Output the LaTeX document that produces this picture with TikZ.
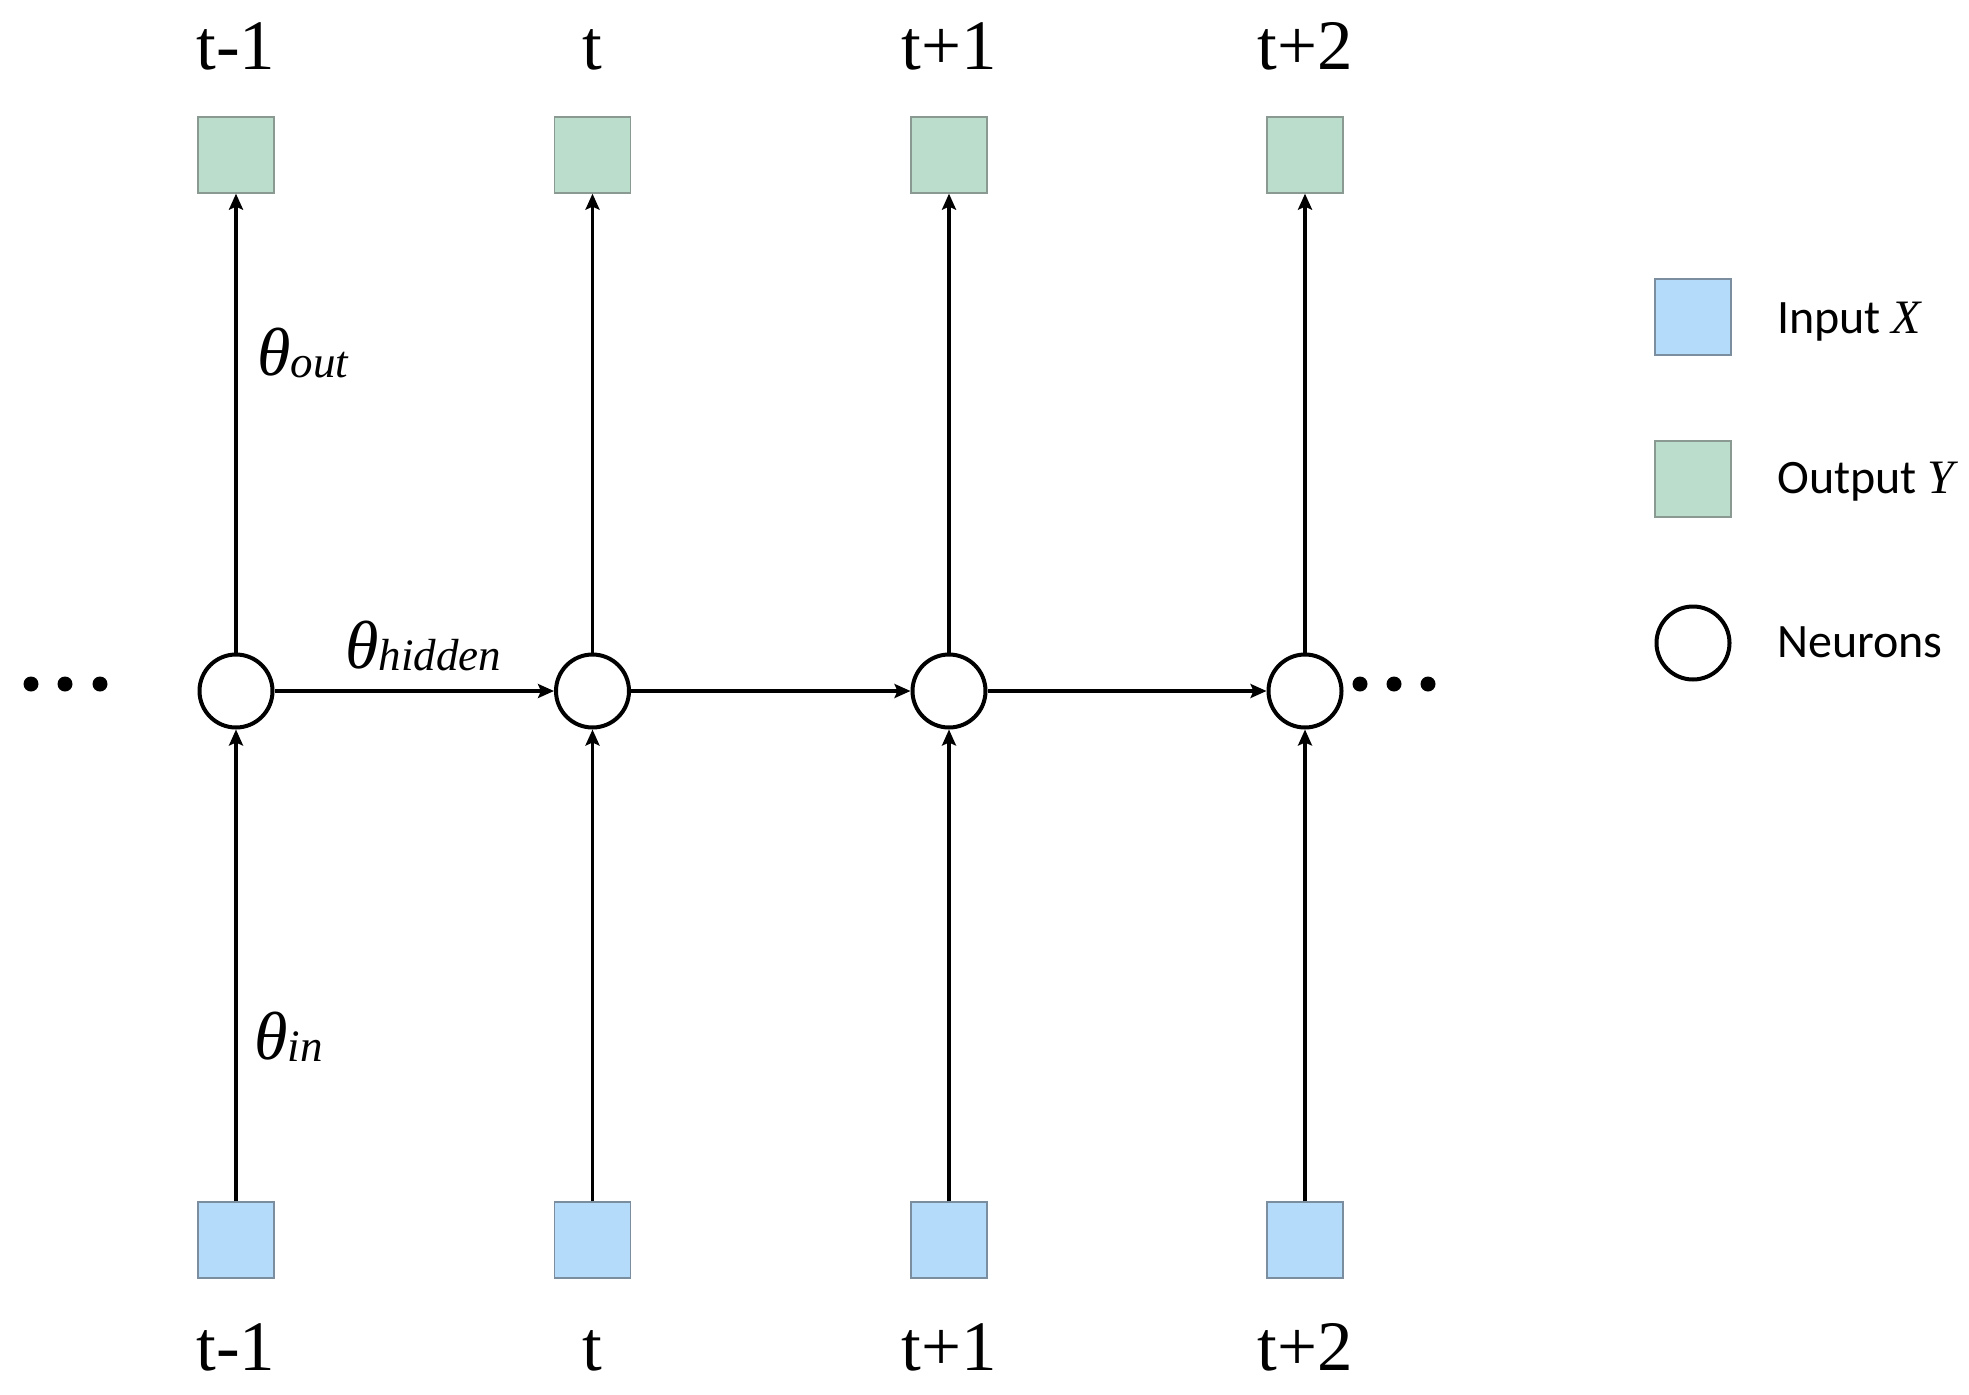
\documentclass[tikz,border=0pt]{standalone}
\usepackage{fontspec}
\setmainfont{Liberation Serif}
\newfontfamily\legfont{Carlito}
\usetikzlibrary{arrows.meta}
\definecolor{outg}{HTML}{BADDCC}
\definecolor{inb}{HTML}{B4DBFA}
\definecolor{outedge}{HTML}{8A9A92}
\definecolor{inedge}{HTML}{7A8EA0}
\begin{document}
\begin{tikzpicture}[x=1pt,y=-1pt,
  outbox/.style={rectangle, draw=outedge, line width=1.3pt, fill=outg, minimum size=76pt, inner sep=0pt},
  inbox/.style={rectangle, draw=inedge, line width=1.3pt, fill=inb, minimum size=76pt, inner sep=0pt},
  neuron/.style={circle, draw=black, line width=4pt, fill=white, minimum size=73pt, inner sep=0pt},
  conn/.style={line width=3.2pt, -{Stealth[length=16pt,width=14pt,inset=3pt]}},
  tlabel/.style={font=\fontsize{71}{71}\selectfont, anchor=base, inner sep=0pt},
  thlabel/.style={anchor=base west, inner sep=0pt},
  legtext/.style={font=\legfont\fontsize{48}{48}\selectfont, anchor=base west, inner sep=0pt},
  dotn/.style={circle, fill=black, inner sep=0pt, minimum size=15pt}]
\useasboundingbox (0,0) rectangle (1969,1394);

\foreach \i/\x/\lab in {1/236/t-1, 2/592.5/t, 3/949/t+1, 4/1305/t+2}{
  \node[outbox] (o\i) at (\x,155) {};
  \node[inbox] (x\i) at (\x,1240) {};
  \node[neuron] (h\i) at (\x,691) {};
  \node[tlabel] (tt\i) at (\x,70) {\lab};
  \node[tlabel] (tb\i) at (\x,1370) {\lab};
  \draw[conn] (x\i.north) -- (h\i.south);
  \draw[conn] (h\i.north) -- (o\i.south);
}
\draw[conn] (h1.east) -- (h2.west);
\draw[conn] (h2.east) -- (h3.west);
\draw[conn] (h3.east) -- (h4.west);

\node[dotn] (dl1) at (31,684) {};
\node[dotn] (dl2) at (65,684) {};
\node[dotn] (dl3) at (100,684) {};
\node[dotn] (dr1) at (1360,684) {};
\node[dotn] (dr2) at (1394,684) {};
\node[dotn] (dr3) at (1428,684) {};

\node[thlabel] (thout) at (257,375) {{\fontsize{68}{68}\selectfont\itshape θ}\raisebox{-2pt}{\fontsize{45}{45}\selectfont\itshape out}};
\node[thlabel] (thhid) at (345,668) {{\fontsize{68}{68}\selectfont\itshape θ}\raisebox{-2pt}{\fontsize{45}{45}\selectfont\itshape hidden}};
\node[thlabel] (thin) at (254,1059) {{\fontsize{68}{68}\selectfont\itshape θ}\raisebox{-2pt}{\fontsize{45}{45}\selectfont\itshape in}};

\node[inbox] (lx) at (1693,317) {};
\node[outbox] (ly) at (1693,479) {};
\node[neuron] (ln) at (1693,643) {};
\node[legtext] (lxt) at (1777,333) {Input {\rmfamily\itshape X}};
\node[legtext] (lyt) at (1777,493) {Output {\rmfamily\itshape Y}};
\node[legtext] (lnt) at (1777,657) {Neurons};
\end{tikzpicture}
\end{document}
